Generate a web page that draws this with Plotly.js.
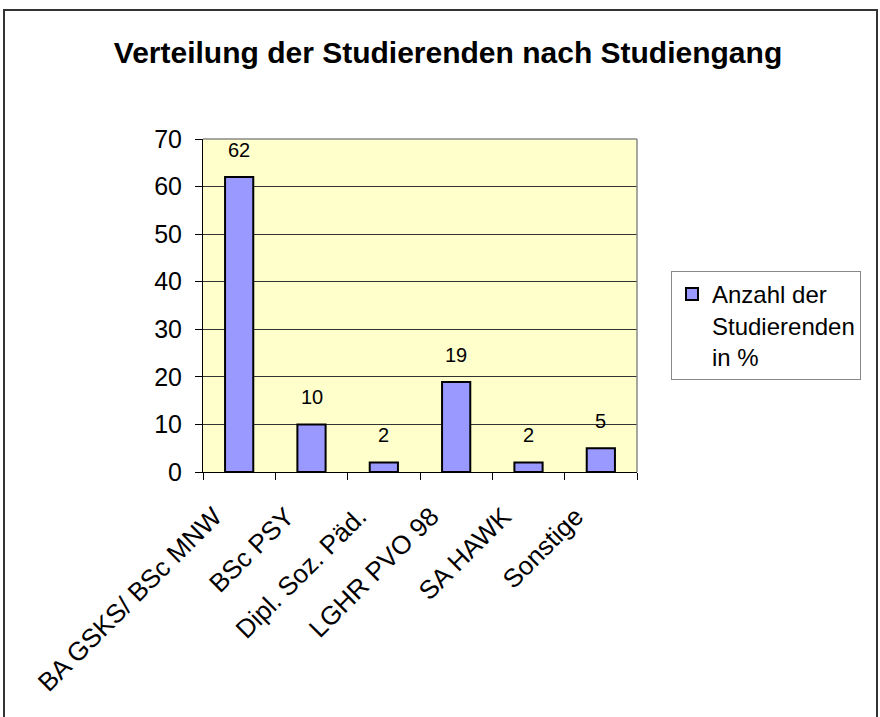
<!DOCTYPE html>
<html>
<head>
<meta charset="utf-8">
<script src="https://cdn.plot.ly/plotly-3.0.1.min.js"></script>
<style>
html,body{margin:0;padding:0;background:#fff;}
#chart{width:880px;height:717px;}
</style>
</head>
<body>
<div id="chart"></div>
<script>
var categories = ["BA GSKS/ BSc MNW", "BSc PSY", "Dipl. Soz. Päd.", "LGHR PVO 98", "SA HAWK", "Sonstige"];
var values = [62, 10, 2, 18.9, 2, 5];
var valueLabels = ["62", "10", "2", "19", "2", "5"];
var seriesName = "Anzahl der<br>Studierenden<br>in %";
var yTicks = [0, 10, 20, 30, 40, 50, 60, 70];

var font = "Liberation Sans, Arial, sans-serif";

var trace = {
  type: "bar",
  x: categories,
  y: values,
  name: seriesName,
  marker: {color: "#9999FF", line: {color: "#000000", width: 2}},
  showlegend: true,
  hoverinfo: "none"
};

var annotations = categories.map(function(c, i){
  return {x: c, y: values[i], xref: "x", yref: "y", text: valueLabels[i],
    showarrow: false, yanchor: "middle", yshift: 27,
    font: {family: font, size: 20, color: "#000"}};
});

var layout = {
  width: 880, height: 717,
  margin: {l: 203, r: 243, t: 139, b: 245},
  paper_bgcolor: "#ffffff",
  plot_bgcolor: "#FFFFCC",
  font: {family: font, color: "#000"},
  title: {text: "<b>Verteilung der Studierenden nach Studiengang</b>",
    font: {family: font, size: 30, color: "#000"},
    x: 448/880, xanchor: "center", xref: "container",
    y: 1 - 52/717, yanchor: "middle", yref: "container"},
  bargap: 0.61,
  xaxis: {
    type: "category",
    tickangle: -45,
    tickfont: {family: font, size: 26, color: "#000"},
    ticks: "outside", ticklen: 7, tickcolor: "#000", tickwidth: 1,
    tickson: "boundaries",
    ticklabelshift: -25,
    ticklabelstandoff: 18,
    showline: true, linecolor: "#000", linewidth: 1,
    showgrid: false, zeroline: false,
    fixedrange: true
  },
  yaxis: {
    range: [0, 70],
    tickvals: yTicks,
    ticktext: yTicks.map(String),
    tickfont: {family: font, size: 25, color: "#000"},
    ticks: "outside", ticklen: 7, tickcolor: "#000", tickwidth: 1,
    ticklabelstandoff: 8,
    showline: true, linecolor: "#000", linewidth: 1,
    showgrid: true, gridcolor: "#333", gridwidth: 1,
    zeroline: false,
    fixedrange: true
  },
  legend: {
    x: (671-203)/434, y: (472-271)/333, xanchor: "left", yanchor: "top",
    bgcolor: "#fff", bordercolor: "#888", borderwidth: 1,
    font: {family: font, size: 24, color: "#000"},
    valign: "top",
    itemclick: false
  },
  annotations: annotations,
  shapes: [
    {type: "line", xref: "paper", yref: "paper", x0: 0, x1: 1, y0: 1, y1: 1, line: {color: "#888", width: 1.5}},
    {type: "line", xref: "paper", yref: "paper", x0: 1, x1: 1, y0: 0, y1: 1, line: {color: "#888", width: 1.5}},
    {type: "rect", xref: "paper", yref: "paper",
     x0: (4-203)/434, x1: (877-203)/434, y0: (472-740)/333, y1: (472-10)/333,
     line: {color: "#333", width: 2}, fillcolor: "rgba(0,0,0,0)", layer: "above"}
  ]
};

Plotly.newPlot("chart", [trace], layout, {displayModeBar: false, staticPlot: true});
</script>
</body>
</html>
